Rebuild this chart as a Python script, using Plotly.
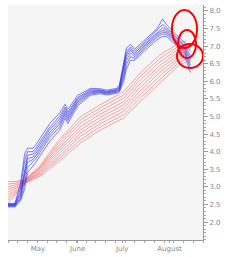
import plotly.graph_objects as go

# x positions in days (axis spans 0..140)
blue_x = [0, 5, 9, 12, 14, 18, 20, 25, 30, 37, 41, 43, 50, 59, 66, 71, 78, 80, 83, 85, 88, 91, 97, 107, 111, 114, 120, 127, 131]
blue_1 = [2.53, 2.53, 3.10, 3.95, 4.10, 4.10, 4.20, 4.50, 4.80, 5.10, 5.35, 5.20, 5.60, 5.80, 5.79, 5.75, 5.80, 5.90, 6.50, 6.95, 7.05, 6.92, 7.13, 7.50, 7.77, 7.60, 7.35, 7.10, 6.85]
blue_2 = [2.51, 2.51, 2.95, 3.75, 4.00, 4.00, 4.10, 4.40, 4.70, 5.00, 5.27, 5.12, 5.54, 5.76, 5.76, 5.72, 5.77, 5.86, 6.42, 6.85, 6.98, 6.86, 7.07, 7.45, 7.62, 7.52, 7.29, 7.02, 6.73]
blue_3 = [2.50, 2.50, 2.85, 3.55, 3.90, 3.93, 4.03, 4.33, 4.63, 4.93, 5.21, 5.06, 5.50, 5.73, 5.74, 5.70, 5.75, 5.82, 6.35, 6.78, 6.93, 6.80, 7.03, 7.40, 7.52, 7.47, 7.25, 6.96, 6.64]
blue_4 = [2.48, 2.48, 2.77, 3.40, 3.80, 3.85, 3.95, 4.25, 4.55, 4.85, 5.15, 5.00, 5.45, 5.70, 5.72, 5.68, 5.73, 5.78, 6.28, 6.70, 6.88, 6.75, 6.98, 7.35, 7.45, 7.42, 7.20, 6.90, 6.55]
blue_5 = [2.47, 2.47, 2.70, 3.25, 3.70, 3.78, 3.88, 4.18, 4.48, 4.78, 5.09, 4.94, 5.41, 5.67, 5.70, 5.66, 5.71, 5.76, 6.20, 6.60, 6.80, 6.70, 6.94, 7.30, 7.40, 7.38, 7.16, 6.84, 6.46]
blue_6 = [2.45, 2.45, 2.65, 3.10, 3.55, 3.70, 3.80, 4.10, 4.40, 4.70, 5.03, 4.88, 5.36, 5.64, 5.68, 5.64, 5.69, 5.73, 6.10, 6.48, 6.70, 6.65, 6.89, 7.25, 7.35, 7.33, 7.11, 6.78, 6.37]
blue_7 = [2.43, 2.43, 2.60, 2.95, 3.40, 3.60, 3.70, 4.00, 4.30, 4.60, 4.95, 4.80, 5.30, 5.60, 5.65, 5.61, 5.66, 5.70, 6.00, 6.35, 6.60, 6.60, 6.83, 7.18, 7.28, 7.27, 7.05, 6.70, 6.25]

red_x = [0, 5, 12, 23, 36, 52, 66, 83, 95, 109, 123, 128]
red_1 = [3.15, 3.15, 3.21, 3.60, 4.30, 4.99, 5.33, 5.70, 6.24, 6.75, 7.09, 7.15]
red_2 = [3.08, 3.10, 3.20, 3.56, 4.23, 4.90, 5.24, 5.61, 6.14, 6.65, 7.01, 7.08]
red_3 = [3.00, 3.05, 3.18, 3.53, 4.15, 4.81, 5.15, 5.52, 6.04, 6.55, 6.94, 7.00]
red_4 = [2.93, 3.00, 3.17, 3.49, 4.08, 4.71, 5.06, 5.42, 5.93, 6.45, 6.86, 6.93]
red_5 = [2.85, 2.95, 3.15, 3.45, 4.00, 4.62, 4.97, 5.33, 5.83, 6.35, 6.78, 6.85]
red_6 = [2.78, 2.90, 3.14, 3.41, 3.93, 4.53, 4.88, 5.24, 5.73, 6.25, 6.70, 6.78]
red_7 = [2.70, 2.85, 3.12, 3.38, 3.85, 4.44, 4.79, 5.15, 5.63, 6.15, 6.63, 6.70]
red_8 = [2.63, 2.80, 3.11, 3.34, 3.78, 4.34, 4.70, 5.05, 5.52, 6.05, 6.55, 6.63]
red_9 = [2.55, 2.75, 3.09, 3.30, 3.70, 4.25, 4.61, 4.96, 5.42, 5.95, 6.47, 6.55]

month_ticks = [21.5, 50, 82, 116]
month_labels = ["May", "June", "July", "August"]
y_ticks = [2.0, 2.5, 3.0, 3.5, 4.0, 4.5, 5.0, 5.5, 6.0, 6.5, 7.0, 7.5, 8.0]

# highlight ellipses (x0, x1, y0, y1) in data units
circles = [(117.7, 135.7, 6.95, 8.03), (122, 135, 6.66, 7.46), (121.3, 140, 6.38, 7.06)]

fig = go.Figure()
for ys in [red_1, red_2, red_3, red_4, red_5, red_6, red_7, red_8, red_9]:
    fig.add_trace(go.Scatter(x=red_x, y=ys, mode="lines",
                             line=dict(color="rgba(240,80,80,0.5)", width=1), hoverinfo="skip"))
for ys in [blue_1, blue_2, blue_3, blue_4, blue_5, blue_6, blue_7]:
    fig.add_trace(go.Scatter(x=blue_x, y=ys, mode="lines",
                             line=dict(color="rgba(40,40,230,0.6)", width=1), hoverinfo="skip"))

for x0, x1, y0, y1 in circles:
    fig.add_shape(type="circle", xref="x", yref="y", x0=x0, x1=x1, y0=y0, y1=y1,
                  line=dict(color="red", width=2), fillcolor="rgba(0,0,0,0)")

fig.update_layout(
    width=240, height=257,
    margin=dict(l=8, r=37, t=5, b=17),
    paper_bgcolor="white", plot_bgcolor="#f5f5f5",
    showlegend=False,
    font=dict(family="DejaVu Sans", size=8, color="#888888"),
    xaxis=dict(range=[0, 140], tickvals=month_ticks, ticktext=month_labels,
               showgrid=False, zeroline=False, showline=True, linecolor="#999999",
               ticks="outside", ticklen=2, tickcolor="#999999",
               minor=dict(dtick=7, tick0=0, ticks="outside", ticklen=2, tickcolor="#aaaaaa"),
               tickfont=dict(size=7, color="#888888")),
    yaxis=dict(range=[1.49, 8.17], side="right", tickvals=y_ticks,
               ticktext=[f"{v:.1f}" for v in y_ticks],
               showgrid=False, zeroline=False, showline=True, linecolor="#999999",
               ticks="outside", ticklen=4, tickcolor="#999999",
               minor=dict(dtick=0.1, ticks="outside", ticklen=2, tickcolor="#aaaaaa"),
               tickfont=dict(size=7, color="#888888")),
)

fig.write_html("out.html", config={"displayModeBar": False},
               post_script="document.body.style.margin='0';document.body.style.overflow='hidden';")
